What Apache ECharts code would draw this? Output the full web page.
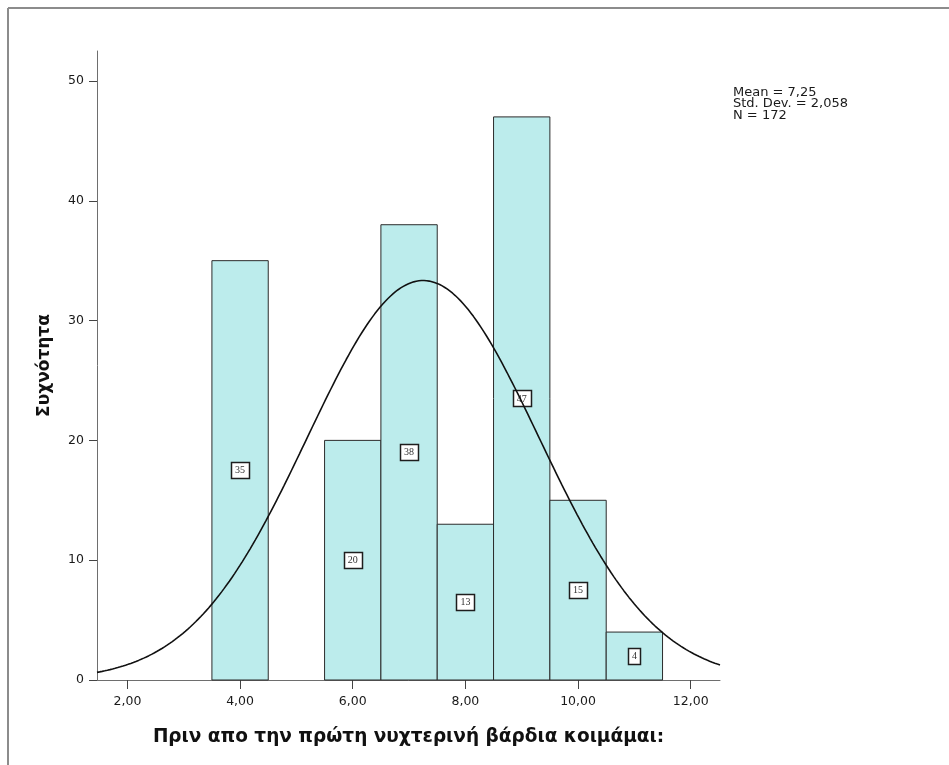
<!DOCTYPE html>
<html>
<head>
<meta charset="utf-8">
<script src="https://cdn.jsdelivr.net/npm/echarts@6/dist/echarts.min.js"></script>
<style>
  html, body { margin: 0; padding: 0; background: #ffffff; }
  #chart { width: 949px; height: 765px; }
</style>
</head>
<body>
<div id="chart"></div>
<script>
// Histogram bins (bin centre, bin width 1) and their counts
const binCenters = [4, 6, 7, 8, 9, 10, 11];
const binCounts = [35, 20, 38, 13, 47, 15, 4];
const binWidth = 1;

// Summary statistics shown in the corner and used for the normal curve
const statMean = 7.25;
const statSd = 2.058;
const statN = 172;

const xTicks = [2, 4, 6, 8, 10, 12];
const yTicks = [0, 10, 20, 30, 40, 50];
const xMin = 1.46, xMax = 12.52;
const yMax = 52.5;

const fmt = v => v.toFixed(2).replace('.', ',');

// Normal density scaled to counts (N * bin width * pdf)
const curve = [];
const steps = 240;
for (let i = 0; i <= steps; i++) {
  const x = xMin + (xMax - xMin) * i / steps;
  const z = (x - statMean) / statSd;
  const y = statN * binWidth * Math.exp(-0.5 * z * z) / (statSd * Math.sqrt(2 * Math.PI));
  curve.push([x, y]);
}

const barData = binCenters.map((c, i) => [c, binCounts[i]]);

const chart = echarts.init(document.getElementById('chart'), null, { renderer: 'canvas' });

chart.setOption({
  animation: false,
  backgroundColor: '#ffffff',
  grid: { left: 97, right: 229, top: 51, bottom: 85, containLabel: false },
  xAxis: {
    type: 'value',
    min: xMin, max: xMax,
    splitLine: { show: false },
    axisLine: { show: true, onZero: false, lineStyle: { color: '#6e6e6e', width: 1 } },
    axisTick: { show: true, length: 9, customValues: xTicks, lineStyle: { color: '#444', width: 1 } },
    axisLabel: {
      customValues: xTicks, formatter: v => fmt(v), margin: 15,
      color: '#1a1a1a', fontFamily: 'DejaVu Sans', fontSize: 12.5
    },
    name: 'Πριν απο την πρώτη νυχτερινή βάρδια κοιμάμαι:',
    nameLocation: 'middle', nameGap: 48,
    nameTextStyle: { fontFamily: 'DejaVu Sans', fontWeight: 'bold', fontSize: 18.5, color: '#111' }
  },
  yAxis: {
    type: 'value',
    min: 0, max: yMax,
    splitLine: { show: false },
    axisLine: { show: true, lineStyle: { color: '#6e6e6e', width: 1 } },
    axisTick: { show: true, length: 8, customValues: yTicks, lineStyle: { color: '#444', width: 1 } },
    axisLabel: {
      customValues: yTicks, margin: 13,
      color: '#1a1a1a', fontFamily: 'DejaVu Sans', fontSize: 12.5
    },
    name: 'Συχνότητα',
    nameLocation: 'middle', nameGap: 44, nameRotate: 90,
    nameTextStyle: { fontFamily: 'DejaVu Sans', fontWeight: 'bold', fontSize: 17, color: '#111' }
  },
  series: [
    {
      type: 'custom',
      data: barData,
      z: 2,
      renderItem: function (params, api) {
        const c = api.value(0), n = api.value(1);
        const p0 = api.coord([c - binWidth / 2, n]);
        const p1 = api.coord([c + binWidth / 2, 0]);
        const mid = api.coord([c, n / 2]);
        const label = String(n);
        const bw = label.length > 1 ? 18 : 12;
        return {
          type: 'group',
          children: [
            {
              type: 'rect',
              shape: { x: p0[0], y: p0[1], width: p1[0] - p0[0], height: p1[1] - p0[1] },
              style: { fill: '#bcecec', stroke: '#2b2b2b', lineWidth: 1 }
            },
            {
              type: 'rect',
              shape: { x: Math.round(mid[0] - bw / 2) + 0.5, y: Math.round(mid[1] - 8) + 0.5, width: bw, height: 16 },
              style: { fill: '#ffffff', stroke: '#1e1e1e', lineWidth: 1.5 }
            },
            {
              type: 'text',
              x: mid[0], y: mid[1] + 0.5,
              style: {
                text: label, align: 'center', verticalAlign: 'middle',
                font: '10px "Liberation Serif"', fill: '#333'
              }
            }
          ]
        };
      }
    },
    {
      type: 'line',
      data: curve,
      z: 3,
      showSymbol: false,
      symbol: 'none',
      smooth: false,
      silent: true,
      lineStyle: { color: '#111111', width: 1.6 }
    }
  ],
  graphic: [
    { type: 'line', shape: { x1: 8, y1: 8, x2: 949, y2: 8 }, style: { stroke: '#8c8c8c', lineWidth: 2 } },
    { type: 'line', shape: { x1: 8, y1: 8, x2: 8, y2: 765 }, style: { stroke: '#8c8c8c', lineWidth: 2 } },
    {
      type: 'text', left: 733, top: 86,
      style: {
        text: 'Mean = ' + fmt(statMean).replace(/0$/, '') + '\nStd. Dev. = ' + statSd.toFixed(3).replace('.', ',') + '\nN = ' + statN,
        font: '13px "DejaVu Sans"', lineHeight: 11.5, fill: '#1a1a1a'
      }
    }
  ]
});
</script>
</body>
</html>
